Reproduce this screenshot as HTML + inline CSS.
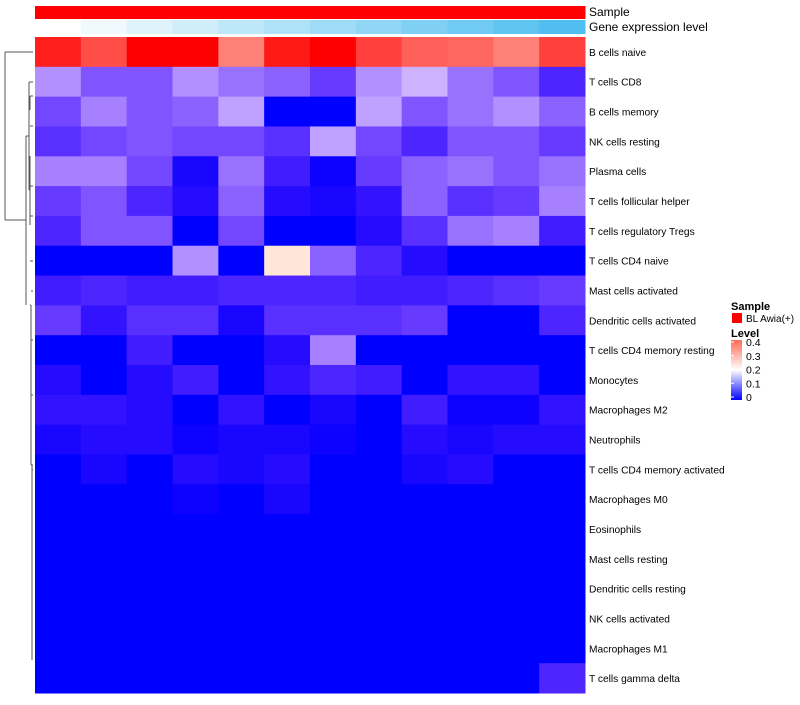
<!DOCTYPE html>
<html><head><meta charset="utf-8"><style>
body{margin:0;background:#fff;width:800px;height:700px;overflow:hidden;font-family:"Liberation Sans",sans-serif}
svg text{font-family:"Liberation Sans",sans-serif}
</style></head><body>
<svg id="chart" width="800" height="700" xmlns="http://www.w3.org/2000/svg">
<defs>
<linearGradient id="lvl" x1="0" x2="0" y1="1" y2="0"><stop offset="0" stop-color="#0000ff"/><stop offset="0.5" stop-color="#ffffff"/><stop offset="1" stop-color="#ff6a55"/></linearGradient>
</defs>
<g id="cells"></g>
<g id="rowlabels"></g>
<g id="dendro" stroke="#555" stroke-width="1" fill="none">
<path d="M5,52H33M5,52V220M5,220H26M26,136V305M26,136H29M29,82V190M29,82H33M29,190H30M30,156V225M30,305H31M31,305V465M31,465H33M32,465V660"/>
<path d="M30,96H33M30,110V96M30,126H33M30,186H33M30,216H33M30,261H33M31,291H33M31,340H33M31,395H33M32,470H33"/>
</g>
<text x="589" y="16" font-size="12">Sample</text>
<text x="589" y="31" font-size="12">Gene expression level</text>
<g>
<text x="731" y="310" font-size="11" font-weight="bold">Sample</text>
<rect x="732" y="313" width="10" height="10" fill="#ff0000"/>
<text x="746" y="322" font-size="10">BL Awia(+)</text>
<text x="731" y="337" font-size="11" font-weight="bold">Level</text>
<rect x="731" y="340" width="11" height="60" fill="url(#lvl)"/>
<g id="lvlticks" font-size="10.5"></g>
</g>
</svg>
<script>
const rowNames=["B cells naive","T cells CD8","B cells memory","NK cells resting","Plasma cells","T cells follicular helper","T cells regulatory  Tregs","T cells CD4 naive","Mast cells activated","Dendritic cells activated","T cells CD4 memory resting","Monocytes","Macrophages M2","Neutrophils","T cells CD4 memory activated","Macrophages M0","Eosinophils","Mast cells resting","Dendritic cells resting","NK cells activated","Macrophages M1","T cells gamma delta"];
const values=[
[0.55,0.48,0.62,0.62,0.40,0.56,0.62,0.50,0.45,0.44,0.40,0.50],
[0.14,0.10,0.10,0.14,0.12,0.11,0.08,0.14,0.16,0.12,0.10,0.06],
[0.09,0.13,0.10,0.11,0.15,0,0,0.15,0.10,0.12,0.14,0.11],
[0.07,0.09,0.10,0.09,0.09,0.07,0.15,0.09,0.06,0.10,0.10,0.08],
[0.13,0.13,0.09,0.02,0.12,0.05,0.01,0.08,0.11,0.12,0.10,0.12],
[0.08,0.10,0.06,0.03,0.11,0.03,0.02,0.04,0.11,0.07,0.08,0.13],
[0.06,0.10,0.10,0,0.09,0,0,0.03,0.07,0.12,0.13,0.05],
[0,0,0,0.14,0,0.24,0.11,0.06,0.03,0,0,0],
[0.05,0.06,0.05,0.05,0.06,0.06,0.06,0.05,0.05,0.06,0.07,0.08],
[0.08,0.04,0.07,0.07,0.02,0.07,0.07,0.07,0.08,0,0,0.06],
[0,0,0.05,0,0,0.03,0.13,0,0,0,0,0],
[0.03,0,0.03,0.05,0,0.04,0.06,0.05,0,0.04,0.04,0],
[0.04,0.04,0.03,0,0.04,0,0.02,0,0.05,0.01,0.01,0.04],
[0.02,0.03,0.03,0.01,0.02,0.02,0.01,0,0.03,0.02,0.03,0.03],
[0,0.02,0,0.03,0.02,0.03,0,0,0.02,0.03,0,0],
[0,0,0,0.01,0,0.02,0,0,0,0,0,0],
[0,0,0,0,0,0,0,0,0,0,0,0],
[0,0,0,0,0,0,0,0,0,0,0,0],
[0,0,0,0,0,0,0,0,0,0,0,0],
[0,0,0,0,0,0,0,0,0,0,0,0],
[0,0,0,0,0,0,0,0,0,0,0,0],
[0,0,0,0,0,0,0,0,0,0,0,0.06]];
const geneLevels=[0,1,2,3,4,5,6,7,8,9,10,11];
const levelTicks=[0,0.1,0.2,0.3,0.4];
const NS="http://www.w3.org/2000/svg";
const x0=35,x1=585,y0=37,y1=693;
const nC=12,nR=rowNames.length;
const cw=(x1-x0)/nC,rh=(y1-y0)/nR;
const xPos=c=>x0+c*cw, yPos=r=>y0+r*rh;
function color(v){
  if(v<=0.2){const t=Math.max(0,v)/0.2;return `rgb(${Math.round(255*t)},${Math.round(255*Math.pow(t,1.6))},255)`;}
  const s=Math.min(1,(v-0.2)/0.4);const g=Math.round(255*(1-s));return `rgb(255,${g},${Math.round(g*0.93)})`;
}
function mk(tag,at,parent){const e=document.createElementNS(NS,tag);for(const k in at)e.setAttribute(k,at[k]);parent.appendChild(e);return e;}
const cells=document.getElementById('cells');
values.forEach((row,r)=>row.forEach((v,c)=>{
  const e=mk('rect',{x:xPos(c),y:yPos(r),width:cw+0.5,height:rh+0.5,fill:color(v)},cells);
  
  
}));
const gmax=Math.max(...geneLevels);
geneLevels.forEach((g,c)=>{
  const s=g/gmax;
  const e=mk('rect',{x:xPos(c),y:20,width:cw+0.5,height:14,fill:`rgb(${Math.round(255-175*s)},${Math.round(255-65*s)},${Math.round(255-15*s)})`},cells);
  
  
  const f=mk('rect',{x:xPos(c),y:6,width:cw+0.5,height:13,fill:'#ff0000'},cells);
  
  
});
const rl=document.getElementById('rowlabels');
rowNames.forEach((n,r)=>{
  const t=mk('text',{x:589,y:yPos(r)+rh/2+4,'font-size':10.2,'xml:space':'preserve'},rl);t.textContent=n;
  
  
});
const lt=document.getElementById('lvlticks');
levelTicks.forEach(v=>{
  const y=397-(v/0.4)*55;
  const l=mk('line',{x1:731,x2:734,y1:y,y2:y,stroke:'#fff'},lt);
  
  
  const t=mk('text',{x:746,y:y+4},lt);t.textContent=String(v);
  
  
});
</script>
</body></html>
